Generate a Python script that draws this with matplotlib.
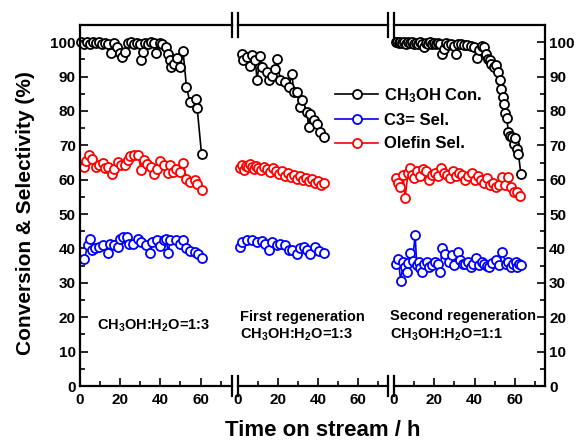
import matplotlib
matplotlib.use("Agg")
import matplotlib.pyplot as plt
from matplotlib.ticker import MultipleLocator

plt.rcParams['font.family'] = ['Liberation Sans', 'DejaVu Sans']
plt.rcParams['mathtext.fontset'] = 'custom'
plt.rcParams['mathtext.rm'] = 'Liberation Sans'
plt.rcParams['mathtext.bf'] = 'Liberation Sans:bold'
plt.rcParams['mathtext.it'] = 'Liberation Sans:italic'

# ---------------- data ----------------
series_labels = ['CH$_\\mathbf{3}$OH Con.', 'C3= Sel.', 'Olefin Sel.']
series_colors = ['black', 'blue', 'red']
panel_texts = [['CH$_\\mathbf{3}$OH:H$_\\mathbf{2}$O=1:3'],
               ['First regeneration', 'CH$_\\mathbf{3}$OH:H$_\\mathbf{2}$O=1:3'],
               ['Second regeneration', 'CH$_\\mathbf{3}$OH:H$_\\mathbf{2}$O=1:1']]
x_ticks = [0, 20, 40, 60]
y_ticks = [0, 10, 20, 30, 40, 50, 60, 70, 80, 90, 100]

# Panel 1 (fresh)
t1_con = [0.5, 2, 3.5, 5, 6.5, 8, 9.5, 11, 12.5, 14, 15.5, 17, 18.5, 20, 21, 22.5, 24, 25.5, 27, 28.5,
          30, 30.5, 31.2, 32.5, 34, 35.5, 37, 38, 39.7, 41, 43, 44, 44.7, 45.5, 47, 48.5, 49.7, 51.3, 53, 54.7,
          57.7, 58.3, 60.5]
v1_con = [100, 99.5, 100, 99.6, 100, 99.8, 100, 99.5, 99.8, 99.5, 97, 99.7, 98.5, 97, 95.7, 97.2, 99.8, 100, 99.6, 99.8,
          99.5, 94.8, 97.2, 99.7, 99.5, 100, 99.8, 97, 99.8, 99.4, 98.5, 96.6, 94.7, 92.7, 93.7, 95.5, 92.8, 97.4, 86.9, 82.6,
          83.5, 80.9, 67.4]
t1_c3 = [2.2, 3.8, 5, 6, 7.7, 9.3, 11.3, 13.8, 14.7, 17, 18.8, 19.7, 21.3, 23.3, 24.3, 26.3, 28.8, 30.5, 32.7, 35,
         36, 38.3, 40, 42, 43, 43.8, 45, 47.7, 49.7, 51.3, 53, 54.7, 57, 58.8, 60.5]
v1_c3 = [36.8, 41, 42.9, 39.5, 40.2, 40.5, 41, 38.7, 41.4, 41, 40.5, 42.9, 43.2, 43.2, 41.2, 41.4, 42.9, 41.9, 41, 38.8,
         41.9, 42.4, 40.7, 42.4, 42.9, 38.7, 42.6, 42.4, 41.4, 42.6, 40.2, 39.3, 39, 38.3, 37.1]
t1_ole = [2.2, 3, 4.7, 6, 8, 9.7, 11.3, 12.5, 13.8, 16, 17, 18.8, 20.5, 22.2, 23.8, 25, 27, 28.8, 30.5, 32,
          33.3, 35.5, 37, 38.3, 39.7, 42, 43.8, 44.7, 46.3, 48, 49.7, 51.3, 53, 54.7, 57, 58.3, 60.5]
v1_ole = [63.7, 65.3, 67.1, 66.1, 63.7, 64.2, 64.9, 63.5, 63.7, 61.6, 63.2, 65.1, 64.2, 64.2, 65.6, 66.8, 67.1, 67.3, 62.9, 65.8,
          64.6, 63.7, 61.6, 63.2, 65.3, 64.2, 61.9, 64.2, 62.2, 63.2, 62.2, 64.9, 60.3, 59.3, 59.8, 58.8, 57.1]

# Panel 2 (first regeneration)
t2_con = [2.0, 2.3, 4.5, 6.2, 7, 8.7, 9.5, 11.2, 12, 14.5, 15.3, 17, 18.7, 19.5, 21.2, 23.7, 25.3, 27, 27.8, 29.5,
          31.2, 32, 34.5, 35.3, 36.2, 37.8, 39.5, 41.2, 42.8]
v2_con = [96.6, 94.7, 95.6, 93.2, 96.3, 94.7, 89, 96.1, 92.8, 91.3, 88.9, 90.3, 92.2, 95.1, 88.9, 88.4, 87, 90.8, 85.5, 85.5,
          81.1, 83.1, 79.7, 75.3, 79.2, 77.3, 76.3, 73.9, 72.4]
t2_c3 = [1.2, 2, 4.5, 7, 9.5, 12, 13.7, 15.3, 17, 19.5, 21.2, 23.7, 25.3, 27, 29.5, 31.2, 32.8, 34.5, 36.2, 38.7,
         40.3, 42.8]
v2_c3 = [40.5, 41.9, 42.4, 42.6, 41.9, 42.2, 41.4, 39.5, 41.9, 41, 41.4, 41, 39.7, 39.5, 38.5, 40, 40.5, 39.5, 38.5, 40.5,
         39.3, 38.7]
t2_ole = [1, 2, 3, 4, 5, 6, 7, 8, 9, 10, 11.5, 13, 14.5, 16, 17.5, 19, 20.5, 22, 23.5, 25,
          26.5, 28, 29.5, 31, 32.5, 34, 35.5, 37, 38.5, 40, 41.5, 43]
v2_ole = [63.5, 64.3, 62.8, 64, 63.6, 64.5, 63.8, 63.2, 64, 63.5, 62.8, 63.7, 63, 62.2, 63.3, 62.5, 61.8, 62.6, 61.2, 61.9,
          60.8, 61.5, 60.3, 61, 59.8, 60.5, 59.5, 60.2, 59, 59.6, 58.6, 59.0]

# Panel 3 (second regeneration)
t3_con = [0.8, 1.6, 2.4, 3.2, 4, 5, 6, 7, 8, 9, 10, 11, 12, 13, 14, 15, 16, 17, 18, 19,
          20, 21, 22, 23, 23.8, 24.8, 26, 27, 28.5, 30, 31, 32, 33.5, 35, 36.5, 38, 39.7, 41, 42, 43.5,
          44.7, 45.5, 46.5, 47.5, 48.3, 49.5, 50.5, 51.5, 52.5, 53.3, 54, 54.7, 55.3, 56, 56.8, 57.7, 58.5, 59.5, 60.3, 61,
          61.8, 63]
v3_con = [100, 100, 99.8, 100, 99.7, 100, 99.5, 100, 99.7, 100, 99.5, 99.8, 99.5, 100, 99.6, 98.5, 99.8, 99.5, 100, 99.6,
          99.8, 99.5, 99.7, 99.5, 96.6, 98, 99.7, 99.2, 99.5, 99, 96.6, 99.5, 99.6, 99.2, 99.3, 99, 98.5, 95.4, 97.8, 99,
          98.5, 96.6, 95.1, 94.7, 93.7, 92.7, 93.5, 91.3, 88.9, 86.5, 84, 82, 79.5, 78, 74, 72.8, 72.4, 70.5, 72, 69,
          67.6, 61.7]
t3_c3 = [1.2, 2.2, 3.3, 4.7, 5.5, 6.3, 7.2, 8, 9.2, 10.5, 11.3, 12.2, 13, 13.8, 15, 16.3, 17.5, 18.8, 20.5, 21.8,
         23, 23.8, 25.5, 27.2, 28.8, 29.7, 31.7, 33, 34.2, 35.5, 37, 38, 39.2, 40.5, 42.2, 43.5, 44.7, 46, 47.2, 48.8,
         50.5, 52.2, 53.8, 55.5, 56.8, 58, 59.2, 60.5, 61.3, 62.2, 63]
v3_c3 = [35.5, 36.8, 30.5, 36.1, 34.6, 33.2, 35.8, 38.7, 36.5, 43.9, 35.1, 36, 34.2, 33.2, 35.5, 36.1, 34.5, 35.1, 36.1, 35.5,
         33.2, 40, 38.5, 36.1, 38, 35.1, 39, 36.6, 35.5, 35.6, 36.2, 34.6, 35.5, 37.1, 35.1, 36, 35.6, 35, 34.6, 35.8,
         36.6, 35.1, 39, 35.6, 36, 34.6, 35.5, 36.1, 34.6, 35.5, 35.1]
t3_ole = [1, 2, 3, 4.5, 5.5, 7, 8, 9, 10, 11.5, 13, 14.5, 16, 17.5, 19, 20.5, 22, 23.5, 25, 26.5,
          28, 29.5, 31, 32.5, 34, 35.5, 37, 38.5, 40, 41.5, 43, 44.5, 46, 47.5, 49, 50.5, 52, 53.5, 55, 56.5,
          58, 59.5, 61, 62.5]
v3_ole = [60.5, 59, 58, 61.5, 54.8, 62, 63.3, 61.5, 60.5, 62.5, 61, 63, 62.5, 60, 61.5, 62, 61, 63.5, 62, 61.5,
          60.5, 62.5, 61, 62, 61.5, 60, 61, 62, 60, 61, 60, 59, 60.5, 58.5, 59, 58, 58.5, 60.8, 58.5, 60.8,
          57.9, 56.5, 56.4, 55.2]

panels = [
    [(t1_con, v1_con), (t1_c3, v1_c3), (t1_ole, v1_ole)],
    [(t2_con, v2_con), (t2_c3, v2_c3), (t2_ole, v2_ole)],
    [(t3_con, v3_con), (t3_c3, v3_c3), (t3_ole, v3_ole)],
]

# ---------------- figure ----------------
W, H = 583, 441
fig = plt.figure(figsize=(W / 100, H / 100), dpi=100)

ax_bottom = 55 / H
ax_height = 361 / H
lefts = [80, 238, 394]
widths = [151.7, 150, 151]
axes = []
for l, w in zip(lefts, widths):
    ax = fig.add_axes([l / W, ax_bottom, w / W, ax_height])
    axes.append(ax)

handles = []
for i, ax in enumerate(axes):
    for (t, v), c, lab in zip(panels[i], series_colors, series_labels):
        ln, = ax.plot(t, v, '-o', color=c, lw=1.2, ms=6.5, mew=1.3,
                      mfc='white', mec=c, label=lab, clip_on=False)
        if i == 0:
            handles.append(ln)
    ax.set_xlim(0, 75.5 if i == 0 else 75)
    ax.set_ylim(0, 105)
    ax.xaxis.set_major_locator(plt.FixedLocator(x_ticks))
    ax.xaxis.set_minor_locator(MultipleLocator(10))
    ax.yaxis.set_major_locator(plt.FixedLocator(y_ticks))
    ax.yaxis.set_minor_locator(MultipleLocator(5))
    for sp in ax.spines.values():
        sp.set_linewidth(1.6)
    ax.tick_params(axis='both', which='both', direction='in', width=1.2,
                   labelsize=11, top=False)
    ax.tick_params(which='major', length=6)
    ax.tick_params(which='minor', length=3.5)
    ax.tick_params(axis='x', pad=5)
    for lbl in ax.get_xticklabels() + ax.get_yticklabels():
        lbl.set_fontweight('bold')

axes[0].spines['right'].set_visible(False)
axes[0].tick_params(axis='y', which='both', left=True, right=False)
axes[1].spines['left'].set_visible(False)
axes[1].spines['right'].set_visible(False)
axes[1].tick_params(axis='y', which='both', left=False, right=False, labelleft=False)
axes[2].spines['left'].set_visible(False)
axes[2].tick_params(axis='y', which='both', left=False, right=True, labelleft=False, labelright=True)
for lbl in axes[2].get_yticklabels():
    lbl.set_fontweight('bold')
axes[0].tick_params(axis='y', pad=3)
axes[2].tick_params(axis='y', pad=3)

# break marks
dy_top = 12 / 361
dy_bot = 10 / 361
for ax, edges in zip(axes, [[1], [0, 1], [0]]):
    for e in edges:
        ax.plot([e, e], [1 - dy_top, 1 + dy_top], color='black', lw=1.6,
                transform=ax.transAxes, clip_on=False)
        ax.plot([e, e], [-dy_bot, dy_bot], color='black', lw=1.6,
                transform=ax.transAxes, clip_on=False)

# panel texts
fig.text(97 / W, 1 - 326 / H, panel_texts[0][0], fontsize=10.5, fontweight='bold', va='center', ha='left')
fig.text(240 / W, 1 - 317 / H, panel_texts[1][0], fontsize=10.5, fontweight='bold', va='center', ha='left')
fig.text(240 / W, 1 - 335 / H, panel_texts[1][1], fontsize=10.5, fontweight='bold', va='center', ha='left')
fig.text(390 / W, 1 - 316 / H, panel_texts[2][0], fontsize=10.5, fontweight='bold', va='center', ha='left')
fig.text(390 / W, 1 - 335 / H, panel_texts[2][1], fontsize=10.5, fontweight='bold', va='center', ha='left')

# axis labels
fig.text(323 / W, 1 - 430 / H, 'Time on stream / h', fontsize=16, fontweight='bold', ha='center', va='center')
fig.text(26 / W, 1 - 213 / H, 'Conversion & Selectivity (%)', fontsize=15, fontweight='bold',
         ha='center', va='center', rotation=90)

# legend
leg = fig.legend(handles=handles, labels=series_labels, loc='upper left',
                 bbox_to_anchor=(335 / W, 1 - 86 / H), frameon=False,
                 prop={'size': 12, 'weight': 'bold'}, handlelength=2.6, handletextpad=0.35,
                 labelspacing=0.5, borderpad=0, borderaxespad=0)

fig.savefig('out.png', dpi=100)
